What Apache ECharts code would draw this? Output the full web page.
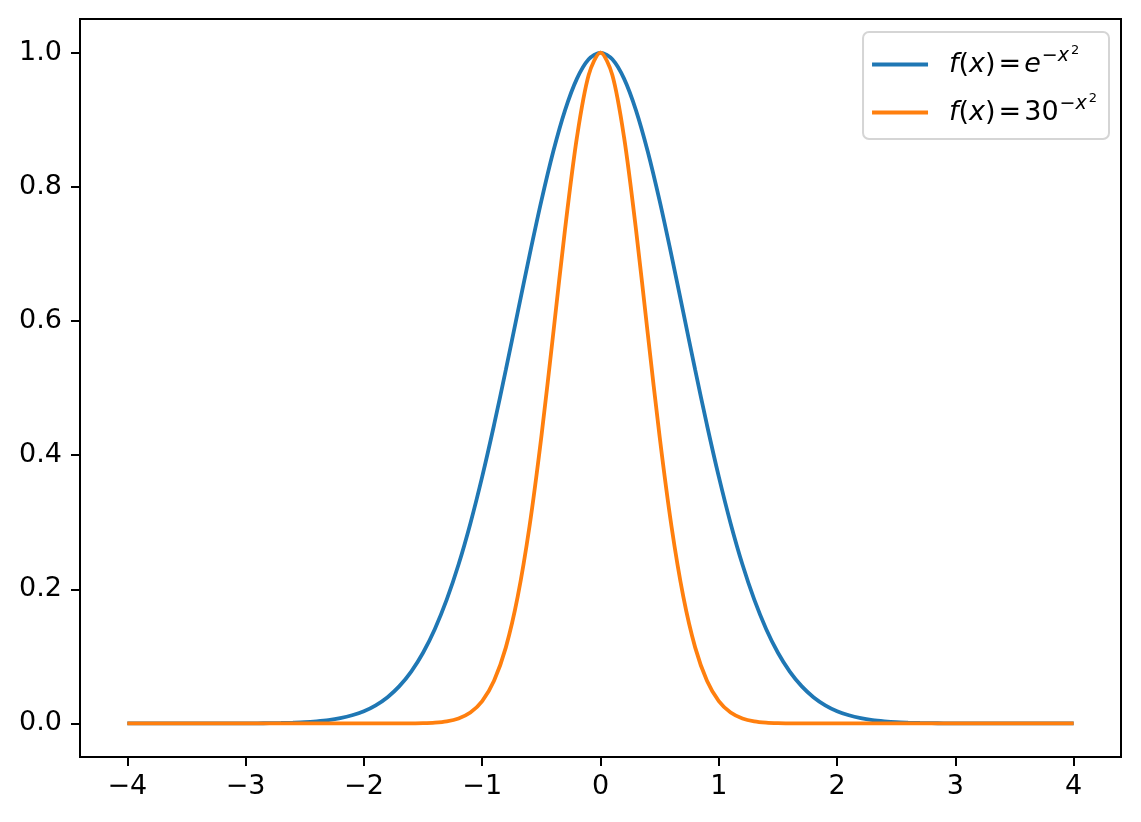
<!DOCTYPE html>
<html>
<head>
<meta charset="utf-8">
<script src="https://cdn.jsdelivr.net/npm/echarts@6/dist/echarts.min.js"></script>
<style>
html,body{margin:0;padding:0;background:#fff;}
#chart{width:1141px;height:822px;}
</style>
</head>
<body>
<div id="chart"></div>
<script>
const xs = [-4.0,-3.9,-3.8,-3.7,-3.6,-3.5,-3.4,-3.3,-3.2,-3.1,-3.0,-2.9,-2.8,-2.7,-2.6,-2.5,-2.4,-2.3,-2.2,-2.1,
  -2.0,-1.9,-1.8,-1.7,-1.6,-1.5,-1.4,-1.3,-1.2,-1.1,-1.0,-0.9,-0.8,-0.7,-0.6,-0.5,-0.4,-0.3,-0.2,-0.1,
  0.0,0.1,0.2,0.3,0.4,0.5,0.6,0.7,0.8,0.9,1.0,1.1,1.2,1.3,1.4,1.5,1.6,1.7,1.8,1.9,
  2.0,2.1,2.2,2.3,2.4,2.5,2.6,2.7,2.8,2.9,3.0,3.1,3.2,3.3,3.4,3.5,3.6,3.7,3.8,3.9,4.0];
const ysExp = [0,0,0,0,0,0,0,0,0,0.0001,0.0001,0.0002,0.0004,0.0007,0.0012,0.0019,0.0032,0.0050,0.0079,0.0122,
  0.0183,0.0271,0.0392,0.0556,0.0773,0.1054,0.1409,0.1845,0.2369,0.2982,0.3679,0.4449,0.5273,0.6126,0.6977,0.7788,0.8521,0.9139,0.9608,0.9900,
  1.0000,0.9900,0.9608,0.9139,0.8521,0.7788,0.6977,0.6126,0.5273,0.4449,0.3679,0.2982,0.2369,0.1845,0.1409,0.1054,0.0773,0.0556,0.0392,0.0271,
  0.0183,0.0122,0.0079,0.0050,0.0032,0.0019,0.0012,0.0007,0.0004,0.0002,0.0001,0.0001,0,0,0,0,0,0,0,0,0];
const ys30 = [0,0,0,0,0,0,0,0,0,0,0,0,0,0,0,0,0,0,0,0,
  0,0,0,0.0001,0.0002,0.0005,0.0013,0.0032,0.0075,0.0163,0.0333,0.0636,0.1134,0.1889,0.2939,0.4273,0.5803,0.7363,0.8728,0.9666,
  1.0000,0.9666,0.8728,0.7363,0.5803,0.4273,0.2939,0.1889,0.1134,0.0636,0.0333,0.0163,0.0075,0.0032,0.0013,0.0005,0.0002,0.0001,0,0,
  0,0,0,0,0,0,0,0,0,0,0,0,0,0,0,0,0,0,0,0,0];
const xTicks = [-4,-3,-2,-1,0,1,2,3,4];
const yTicks = [0,0.2,0.4,0.6,0.8,1.0];
const seriesNames = ['exp', 'thirty'];

const FONT = 'DejaVu Sans';
const FS = 27;
const chart = echarts.init(document.getElementById('chart'), null, {renderer:'canvas'});
const legendText = {
  exp: '{it|f}{n|(}{it|x}{n|)}{eq|=}{it|e}{sup|−}{supi|x}{sup2|2}',
  thirty: '{it|f}{n|(}{it|x}{n|)}{eq|=}{n|30}{sup|−}{supi|x}{sup2|2}'
};
chart.setOption({
  animation: false,
  backgroundColor: '#fff',
  grid: {left: 80, right: 20, top: 19, bottom: 65, show: true, borderColor: '#000', borderWidth: 2, backgroundColor: 'transparent'},
  xAxis: {
    type: 'value', min: -4.4, max: 4.4,
    splitLine: {show: false},
    axisLine: {show: false, onZero: false},
    axisTick: {show: true, length: 9, lineStyle: {color: '#000', width: 2}, customValues: xTicks},
    axisLabel: {color: '#000', fontFamily: FONT, fontSize: FS, margin: 16, customValues: xTicks,
      formatter: v => (v < 0 ? '\u2212' + Math.abs(v) : String(v))}
  },
  yAxis: {
    type: 'value', min: -0.05, max: 1.05,
    splitLine: {show: false},
    axisLine: {show: false, onZero: false},
    axisTick: {show: true, length: 9, lineStyle: {color: '#000', width: 2}, customValues: yTicks},
    axisLabel: {color: '#000', fontFamily: FONT, fontSize: FS, margin: 18, customValues: yTicks,
      formatter: v => v.toFixed(1)}
  },
  legend: {
    orient: 'vertical', right: 32, top: 32,
    data: seriesNames,
    icon: 'rect', itemWidth: 56, itemHeight: 4, itemGap: 14,
    padding: [12, 12, 13, 9],
    backgroundColor: '#fff', borderColor: '#d5d5d5', borderWidth: 2, borderRadius: 6,
    formatter: name => legendText[name],
    textStyle: {
      color: '#000', fontFamily: FONT, fontSize: FS, padding: [0, 0, 0, 16],
      rich: {
        it: {fontFamily: FONT, fontSize: FS, fontStyle: 'italic', color: '#000'},
        n: {fontFamily: FONT, fontSize: FS, color: '#000'},
        eq: {fontFamily: FONT, fontSize: FS, color: '#000', padding: [0, 3, 0, 3]},
        sup: {fontFamily: FONT, fontSize: 19, color: '#000', padding: [0, 0, 17, 1]},
        supi: {fontFamily: FONT, fontSize: 19, fontStyle: 'italic', color: '#000', padding: [0, 0, 17, 0]},
        sup2: {fontFamily: FONT, fontSize: 13, color: '#000', padding: [0, 0, 28, 2]}
      }
    }
  },
  series: [
    {name: seriesNames[0], type: 'line', data: xs.map((x, i) => [x, ysExp[i]]), smooth: 0.3, showSymbol: false, symbol: 'none',
      lineStyle: {color: '#1f77b4', width: 3.8}, itemStyle: {color: '#1f77b4'}},
    {name: seriesNames[1], type: 'line', data: xs.map((x, i) => [x, ys30[i]]), smooth: 0.3, showSymbol: false, symbol: 'none',
      lineStyle: {color: '#ff7f0e', width: 3.8}, itemStyle: {color: '#ff7f0e'}}
  ]
});
</script>
</body>
</html>
